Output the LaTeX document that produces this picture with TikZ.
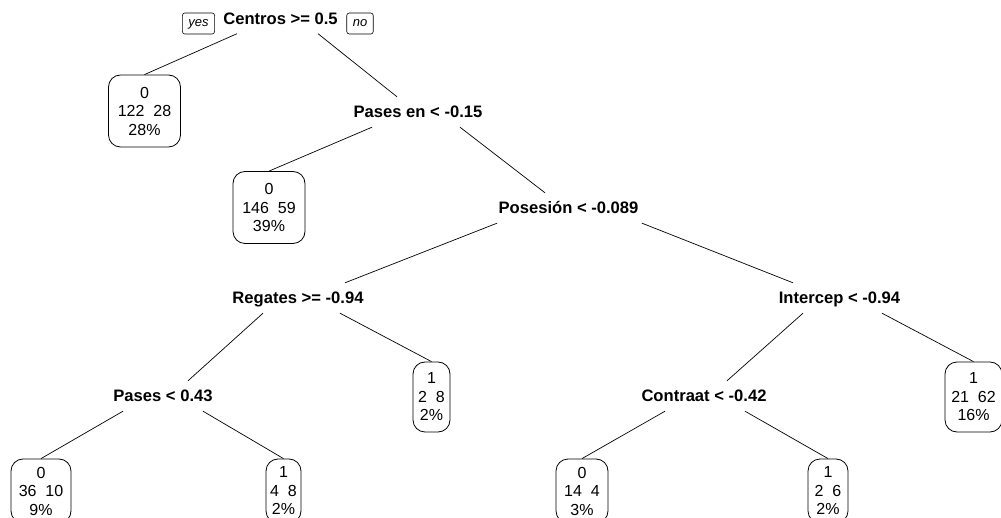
\documentclass[tikz,border=0pt]{standalone}
\usepackage{fontspec}
\setmainfont{Liberation Sans}

\tikzset{
  split/.style={font=\fontsize{16.6}{18}\selectfont\bfseries, inner sep=0pt,
    minimum height=30pt, text height=12pt, text depth=0pt},
  leaf/.style={draw, line width=0.8pt, rounded corners=12pt, align=center,
    font=\fontsize{16}{18.5}\selectfont, inner sep=0pt},
  tag/.style={draw, line width=0.6pt, rounded corners=2.5pt,
    font=\fontsize{13}{13}\selectfont\itshape, inner xsep=6pt, inner ysep=0pt,
    minimum height=21pt, text height=9.5pt, text depth=2.5pt},
  branch/.style={line width=0.7pt}
}

\begin{document}
\begin{tikzpicture}[x=1pt, y=-1pt]
    \useasboundingbox (0,0) rectangle (1001,518);

    % splits
    \node[split] (centros) at (280.5,18.5) {Centros >= 0.5};
    \node[tag] (yes) at (198.5,23.5) {yes};
    \node[tag] (no) at (360,23.5) {no};
    \node[split] (pasesen) at (418,112) {Pases en < -0.15};
    \node[split] (posesion) at (568.5,208) {Posesión < -0.089};
    \node[split] (regates) at (298,298) {Regates >= -0.94};
    \node[split] (intercep) at (839.5,298) {Intercep < -0.94};
    \node[split] (pases) at (163,396) {Pases < 0.43};
    \node[split] (contraat) at (704,396) {Contraat < -0.42};

    % leaves
    \foreach \x/\y/\w/\h/\cls/\counts/\pct [count=\i] in
    {144.5/111/72/72/0/122~~28/28, 269/207.5/72/72/0/146~~59/39,
     431.5/397/37/70/1/2~~8/2, 973.5/397/57/70/1/21~~62/16,
     41/491/60/64/0/36~~10/9, 283.5/491/35/64/1/4~~8/2,
     582/491/52/64/0/14~~4/3, 828/491/40/64/1/2~~6/2}{
        \node[leaf, minimum width=\w pt, minimum height=\h pt] (l\i) at (\x,\y)
            {\cls\\\counts\\\pct\%};
    }

    % branches
    \draw[branch] ([xshift=-43.5pt]centros.south) -- (l1.north);
    \draw[branch] ([xshift=37.5pt]centros.south) -- ([xshift=-21pt]pasesen.north);
    \draw[branch] ([xshift=-46pt]pasesen.south) -- (l2.north);
    \draw[branch] ([xshift=42pt]pasesen.south) -- ([xshift=-23.5pt]posesion.north);
    \draw[branch] ([xshift=-71.5pt]posesion.south) -- ([xshift=47pt]regates.north);
    \draw[branch] ([xshift=73.5pt]posesion.south) -- ([xshift=-46.5pt]intercep.north);
    \draw[branch] ([xshift=-35pt]regates.south) -- ([xshift=25pt]pases.north);
    \draw[branch] ([xshift=42pt]regates.south) -- (l3.north);
    \draw[branch] ([xshift=-36.5pt]intercep.south) -- ([xshift=23pt]contraat.north);
    \draw[branch] ([xshift=42.5pt]intercep.south) -- (l4.north);
    \draw[branch] ([xshift=-40pt]pases.south) -- (l5.north);
    \draw[branch] ([xshift=40pt]pases.south) -- (l6.north);
    \draw[branch] ([xshift=-39pt]contraat.south) -- (l7.north);
    \draw[branch] ([xshift=41pt]contraat.south) -- (l8.north);
\end{tikzpicture}
\end{document}
